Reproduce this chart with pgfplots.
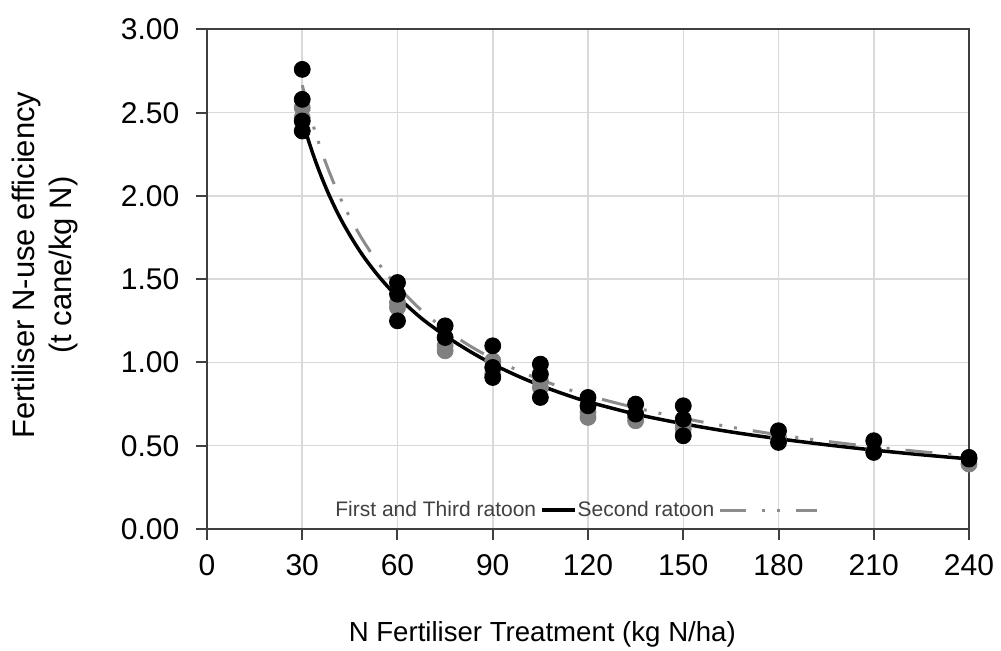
\documentclass[border=0pt]{standalone}
\usepackage{fontspec}
\setmainfont{Liberation Sans}
\usepackage{pgfplots}
\pgfplotsset{compat=1.18}

\definecolor{axisgray}{HTML}{404040}
\definecolor{gridgray}{HTML}{D9D9D9}
\definecolor{dotgray}{HTML}{808080}
\definecolor{linegray}{HTML}{8C8C8C}

% measured efficiencies, one table per ratoon group
\pgfplotstableread{
x y
30 2.53
30 2.47
60 1.36
60 1.33
75 1.10
75 1.07
90 1.01
90 0.93
105 0.89
105 0.85
120 0.70
120 0.67
135 0.67
135 0.65
150 0.63
150 0.60
180 0.55
210 0.47
240 0.39
}\secondpts

\pgfplotstableread{
x y
30 2.76
30 2.58
30 2.45
30 2.39
60 1.48
60 1.41
60 1.25
75 1.22
75 1.15
90 1.10
90 0.97
90 0.91
105 0.99
105 0.93
105 0.79
120 0.79
120 0.74
135 0.75
135 0.69
150 0.74
150 0.66
150 0.56
180 0.59
180 0.52
210 0.53
210 0.46
240 0.43
240 0.42
}\firstthirdpts

% fitted trend lines
\pgfplotstableread{
x y
30 2.458
32 2.331
34 2.218
36 2.117
38 2.025
40 1.942
42 1.866
44 1.797
46 1.733
48 1.673
50 1.618
53 1.543
56 1.475
60 1.394
67.5 1.266
75 1.161
82.5 1.070
90 0.990
97.5 0.922
105 0.862
112.5 0.810
120 0.764
135 0.690
150 0.632
165 0.583
180 0.542
195 0.506
210 0.474
225 0.446
240 0.421
}\firstthirdfit

\pgfplotstableread{
x y
30 2.665
32 2.519
34 2.389
36 2.273
38 2.169
40 2.074
42 1.987
44 1.908
46 1.836
48 1.769
50 1.707
53 1.622
56 1.546
60 1.456
67.5 1.314
75 1.199
82.5 1.103
90 1.023
97.5 0.956
105 0.897
112.5 0.846
120 0.801
135 0.728
150 0.665
165 0.612
180 0.566
195 0.527
210 0.493
225 0.464
240 0.438
}\secondfit

\begin{document}
\begin{tikzpicture}
\useasboundingbox (-103.5pt,-60.5pt) rectangle (397pt,264.5pt);
\begin{axis}[
  at={(0pt,0pt)}, anchor=south west,
  scale only axis, width=381pt, height=249.8pt,
  xmin=0, xmax=240, ymin=0, ymax=3,
  xtick={0,30,60,90,120,150,180,210,240},
  ytick={0,0.5,1,1.5,2,2.5,3},
  /pgf/number format/assume math mode=true,
  ticklabel style={font=\fontsize{15}{18}\selectfont, text=black},
  xticklabel style={yshift=-4pt},
  yticklabel style={/pgf/number format/fixed, /pgf/number format/fixed zerofill,
    /pgf/number format/precision=2, xshift=-5pt},
  tick pos=left, tick align=outside, major tick length=5.3pt,
  tick style={draw=axisgray, line width=1pt},
  axis line style={draw=axisgray, line width=1pt},
  grid=major, grid style={draw=gridgray, line width=0.75pt},
  xlabel={N Fertiliser Treatment (kg N/ha)},
  xlabel style={font=\fontsize{13.8}{16.5}\selectfont, at={(axis description cs:0.44,-0.226)}, anchor=base},
  ylabel={Fertiliser N-use efficiency\\(t cane/kg N)},
  ylabel style={font=\fontsize{15.5}{18.5}\selectfont, align=center, at={(axis description cs:-0.2126,0.528)}, anchor=center},
  legend plot pos=right,
  legend columns=2,
  legend style={draw=none, fill=none, inner sep=0pt,
    at={(axis description cs:0.168,0.038)}, anchor=west,
    font=\fontsize{10.5}{12.5}\selectfont, text=axisgray,
    nodes={inner sep=0pt},
    /tikz/every odd column/.style={column sep=2pt},
    /tikz/every even column/.style={column sep=0.5pt}},
]
\addplot[only marks, mark=*, mark size=4pt, color=dotgray, forget plot] table {\secondpts};
\addplot[only marks, mark=*, mark size=4pt, color=black, forget plot] table {\firstthirdpts};

\addplot[black, line width=1.75pt, smooth, no markers,
  legend image code/.code={\draw[black, line width=1.75pt] (0pt,0pt) -- (16.5pt,0pt);}]
  table {\firstthirdfit};
\addlegendentry{First and Third ratoon}

\addplot[linegray, line width=1.5pt, smooth, no markers,
  dash pattern=on 13.5pt off 8pt on 1.5pt off 6pt on 1.5pt off 8pt,
  legend image code/.code={\draw[linegray, line width=1.5pt, dash pattern=on 13pt off 8pt on 1.5pt off 6pt on 1.5pt off 8pt] (0pt,0pt) -- (48.5pt,0pt);}]
  table {\secondfit};
\addlegendentry{Second ratoon}
\end{axis}
\end{tikzpicture}
\end{document}
